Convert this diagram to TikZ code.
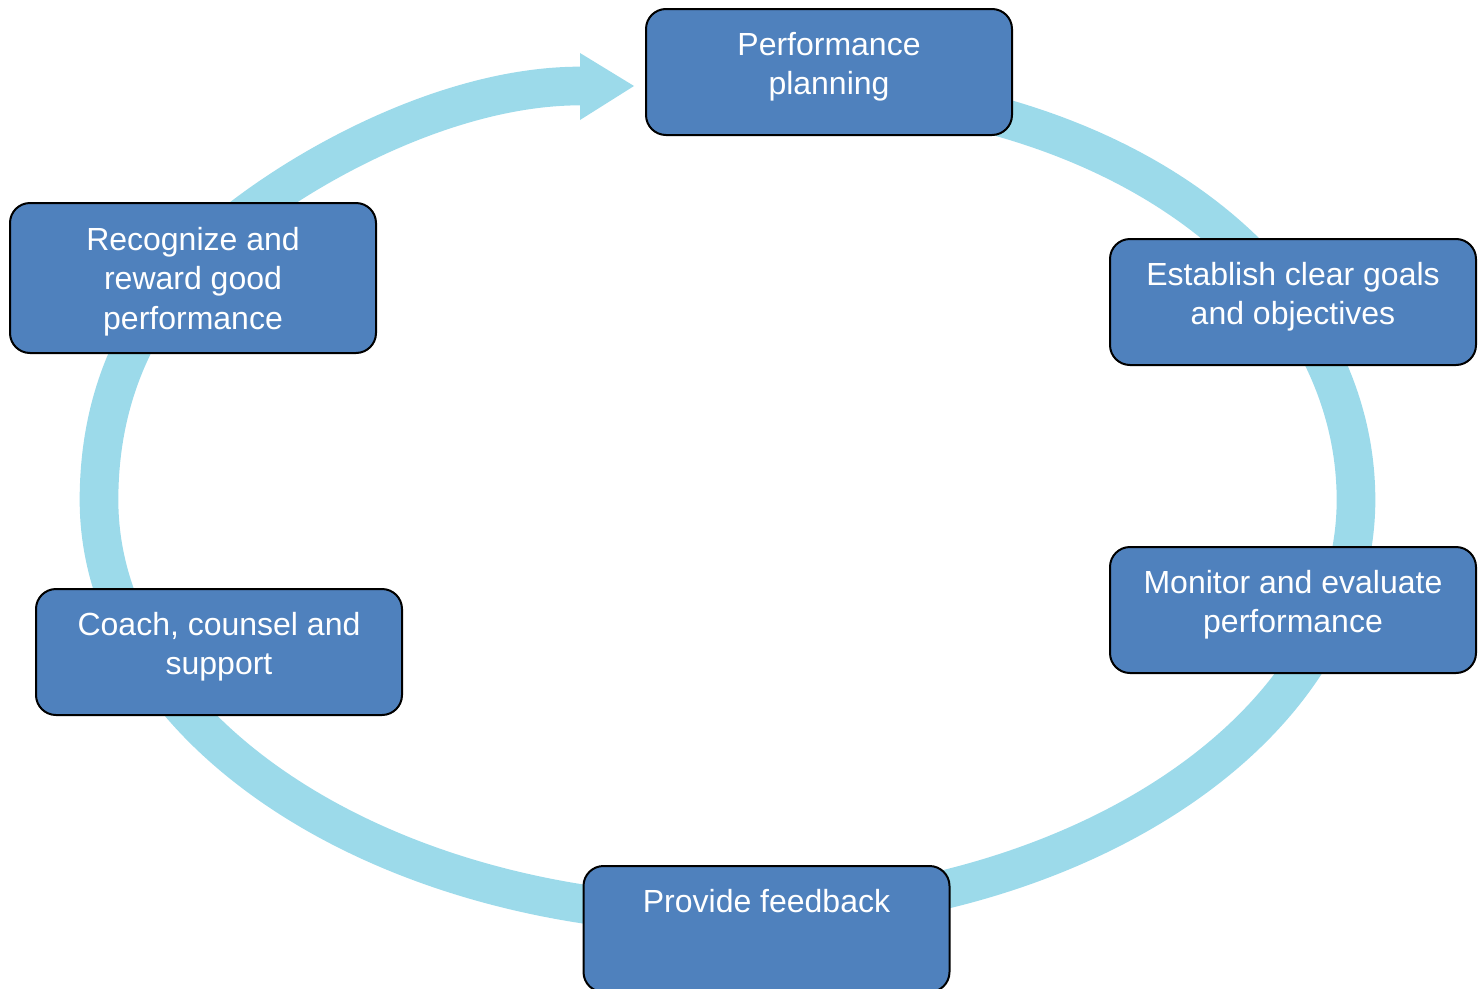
\documentclass[tikz,border=0pt]{standalone}
\usepackage{fontspec}
\setmainfont{Liberation Sans}
\definecolor{ringblue}{RGB}{156,218,234}
\definecolor{boxblue}{RGB}{79,129,189}
\begin{document}
\begin{tikzpicture}[x=0.75pt,y=-0.75pt,
  stepbox/.style={draw=black, line width=1.5pt, fill=boxblue, rounded corners=15pt,
    minimum width=274.5pt, minimum height=94.5pt, inner sep=0pt},
  lbl/.style={anchor=north, inner sep=0pt, text=white, align=center,
    font=\fontsize{24pt}{29.6pt}\selectfont},
  ring/.style={draw=ringblue, line width=29pt}]
\useasboundingbox (0,0) rectangle (1482,989);
% ring arrow
\coordinate (ringstart) at (760,86);
\coordinate (ringright) at (1356,500);
\coordinate (ringleftup) at (175,280);
\coordinate (headbase) at (580,86);
\coordinate (headtip) at (634,86);
\draw[ring] (ringstart) .. controls (1130,86) and (1356,280) .. (ringright)
  arc[start angle=0, end angle=180, x radius=628.5, y radius=415]
  .. controls (99,400) and (135,330) .. (ringleftup)
  .. controls (235,205) and (420,86) .. (headbase);
\fill[ringblue] (580,53) -- (headtip) -- (580,120) -- cycle;
% boxes
\node[stepbox] (pp) at (829,72) {};
\node[lbl] (ppt) at (829,32) {Performance\\planning};
\node[stepbox] (goals) at (1293,302) {};
\node[lbl] (goalst) at (1293,262) {Establish clear goals\\and objectives};
\node[stepbox] (mon) at (1293,610) {};
\node[lbl] (mont) at (1293,570) {Monitor and evaluate\\performance};
\node[stepbox] (fb) at (766.5,929) {};
\node[lbl] (fbt) at (766.5,889) {Provide feedback};
\node[stepbox] (coach) at (219,652) {};
\node[lbl] (coacht) at (219,612) {Coach, counsel and\\support};
\node[stepbox, minimum height=112.5pt] (rec) at (193,278) {};
\node[lbl] (rect) at (193,227) {Recognize and\\reward good\\performance};
\end{tikzpicture}
\end{document}
